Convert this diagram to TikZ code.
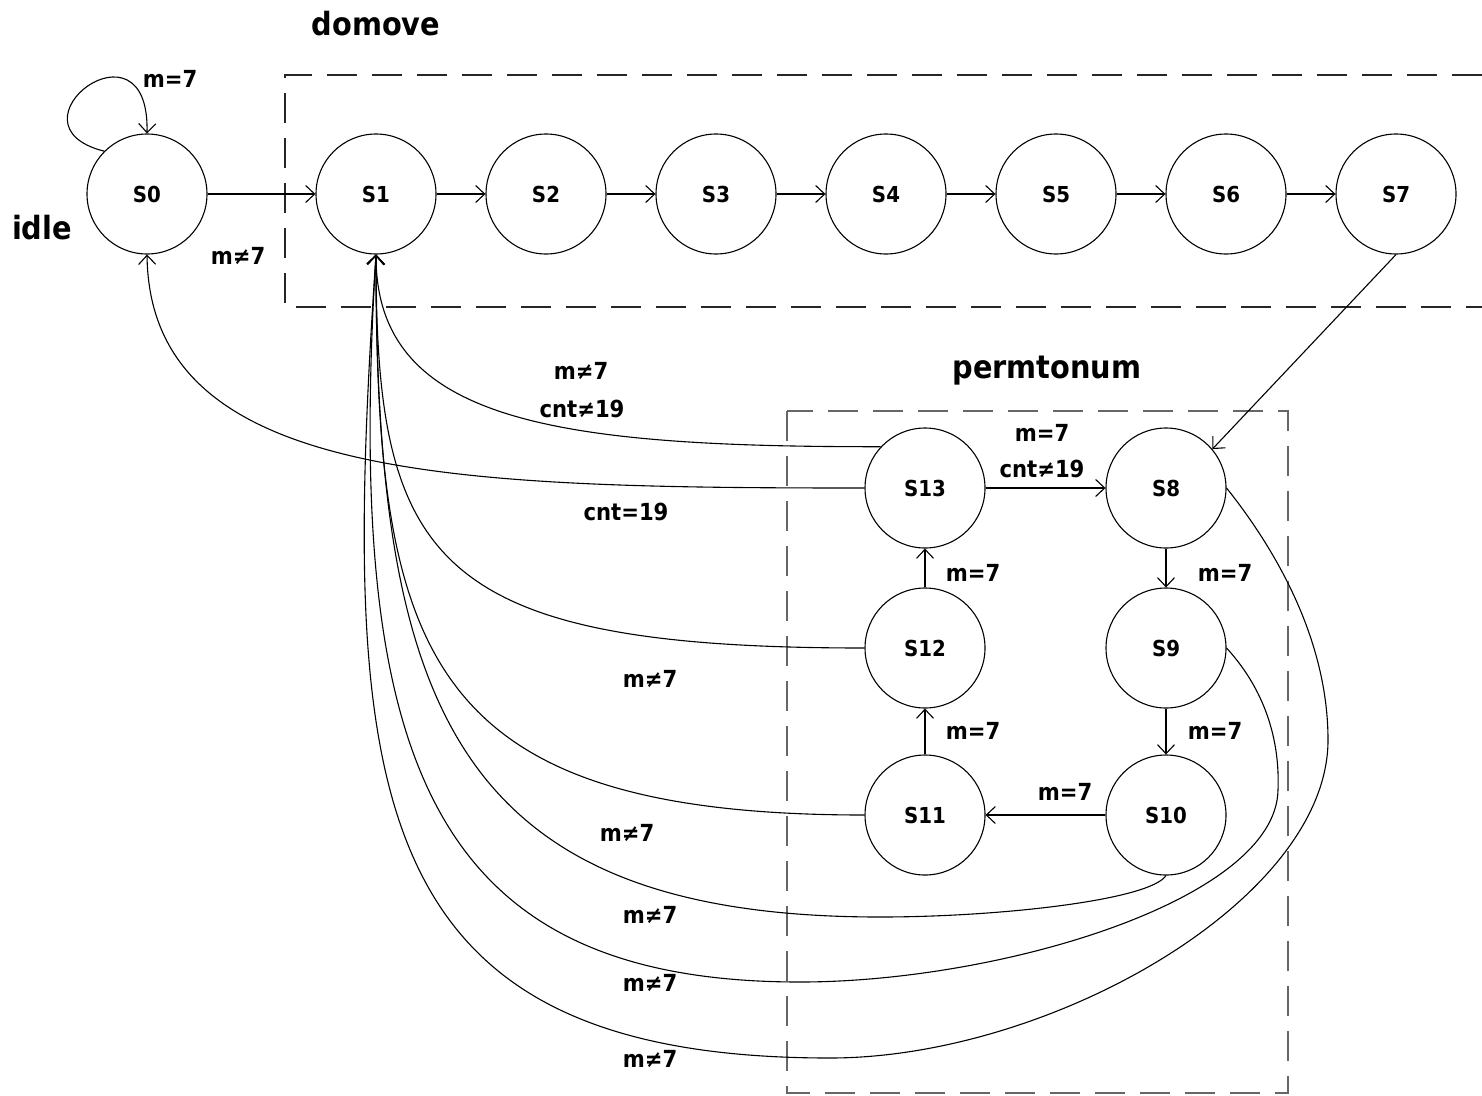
\documentclass[tikz,border=0pt]{standalone}
\usepackage{fontspec}
\setmainfont{DejaVu Sans Condensed}
\usetikzlibrary{arrows.meta}
\begin{document}
\begin{tikzpicture}[x=1pt,y=-1pt,
  line width=1.1pt,
  state/.style={circle,draw,minimum size=120pt,inner sep=0pt,font=\fontsize{22}{22}\selectfont\bfseries},
  lbl/.style={anchor=base,inner sep=0pt,font=\fontsize{23.5}{24}\selectfont\bfseries},
  ttl/.style={anchor=base,inner sep=0pt,font=\fontsize{32}{32}\selectfont\bfseries},
  tr/.style={-{Straight Barb[length=9pt,width=17pt]}},
  dbox/.style={dash pattern=on 30pt off 15pt,line width=1.6pt}]
\useasboundingbox (0,0) rectangle (1482,1095);
% groups
\draw[dbox,black!85] (1482,75) -- (285,75) -- (285,307) -- (1482,307);
\draw[dbox,black!60] (787,411) rectangle (1288,1093);
% states
\node[state] (S0) at (147,194) {S0};
\node[state] (S1) at (376,194) {S1};
\node[state] (S2) at (546,194) {S2};
\node[state] (S3) at (716,194) {S3};
\node[state] (S4) at (886,194) {S4};
\node[state] (S5) at (1056,194) {S5};
\node[state] (S6) at (1226,194) {S6};
\node[state] (S7) at (1396,194) {S7};
\node[state] (S13) at (925,488) {S13};
\node[state] (S8) at (1166,488) {S8};
\node[state] (S12) at (925,648) {S12};
\node[state] (S9) at (1166,648) {S9};
\node[state] (S11) at (925,815) {S11};
\node[state] (S10) at (1166,815) {S10};
% titles
\node[ttl] (tdom) at (376,35) {domove};
\node[ttl] (tidle) at (42,239) {idle};
\node[ttl] (tperm) at (1047,378) {permtonum};
% straight transitions
\draw[tr] (S0) -- (S1);
\draw[tr] (S1) -- (S2);
\draw[tr] (S2) -- (S3);
\draw[tr] (S3) -- (S4);
\draw[tr] (S4) -- (S5);
\draw[tr] (S5) -- (S6);
\draw[tr] (S6) -- (S7);
\draw[tr] (S7.south) -- (S8.40);
\draw[tr] (S13) -- (S8);
\draw[tr] (S8) -- (S9);
\draw[tr] (S9) -- (S10);
\draw[tr] (S10) -- (S11);
\draw[tr] (S11) -- (S12);
\draw[tr] (S12) -- (S13);
% self loop
\draw[tr] (S0.135) .. controls (0,125) and (150,10) .. (S0.north);
% curved returns
\draw[tr] (S13.west) .. controls (450,488) and (150,480) .. (S0.south);
\draw[tr] (S13.137) .. controls (550,447) and (376,420) .. (S1.south);
\draw[tr] (S12.west) .. controls (430,648) and (376,560) .. (S1.south);
\draw[tr] (S11.west) .. controls (420,815) and (376,650) .. (S1.south);
\draw[tr] (S10.south) .. controls (1150,900) and (1000,917) .. (880,917)
   .. controls (450,917) and (376,700) .. (S1.south);
\draw[tr] (S9.east) .. controls (1265,690) and (1280,740) .. (1278,790)
   .. controls (1276,900) and (1000,982) .. (800,982)
   .. controls (430,982) and (345,760) .. (S1.south);
\draw[tr] (S8.east) .. controls (1276,550) and (1328,640) .. (1328,740)
   .. controls (1328,900) and (1050,1058) .. (830,1058)
   .. controls (360,1058) and (340,790) .. (S1.south);
% labels
\node[lbl] (l1) at (170,87) {m=7};
\node[lbl] (l2) at (238,264) {m≠7};
\node[lbl] (l3) at (581,379) {m≠7};
\node[lbl] (l4) at (582,417) {cnt≠19};
\node[lbl] (l5) at (626,520) {cnt=19};
\node[lbl] (l6) at (650,687) {m≠7};
\node[lbl] (l7) at (627,841) {m≠7};
\node[lbl] (l8) at (650,923) {m≠7};
\node[lbl] (l9) at (650,991) {m≠7};
\node[lbl] (l10) at (650,1067) {m≠7};
\node[lbl] (l11) at (1042,441) {m=7};
\node[lbl] (l12) at (1042,477) {cnt≠19};
\node[lbl] (l13) at (973,581) {m=7};
\node[lbl] (l14) at (1225,581) {m=7};
\node[lbl] (l15) at (973,739) {m=7};
\node[lbl] (l16) at (1215,739) {m=7};
\node[lbl] (l17) at (1065,800) {m=7};
\end{tikzpicture}
\end{document}
